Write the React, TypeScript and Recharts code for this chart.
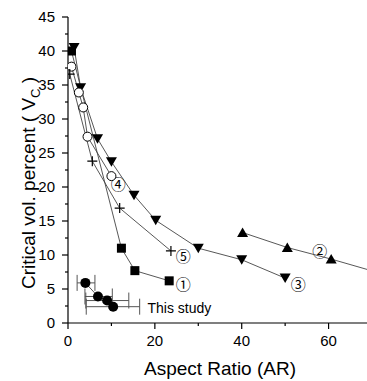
import { ComposedChart, Line, Scatter, ErrorBar, XAxis, YAxis } from 'recharts';

// ① filled squares
const series1 = [
    { x: 0.8, y: 40.0 },
    { x: 12.3, y: 11.0 },
    { x: 15.4, y: 7.7 },
    { x: 23.3, y: 6.2 },
];
// ② up triangles (line runs out past the right edge)
const series2 = [
    { x: 40.2, y: 13.3 },
    { x: 50.5, y: 11.1 },
    { x: 60.6, y: 9.4 },
    { x: 72.0, y: 7.3 },
];
// ③ down triangles
const series3 = [
    { x: 1.4, y: 40.5 },
    { x: 2.9, y: 34.6 },
    { x: 6.8, y: 27.1 },
    { x: 10.0, y: 23.7 },
    { x: 15.2, y: 18.8 },
    { x: 20.2, y: 15.1 },
    { x: 30.0, y: 11.0 },
    { x: 40.0, y: 9.3 },
    { x: 50.0, y: 6.6 },
];
// ④ open circles
const series4 = [
    { x: 0.8, y: 37.7 },
    { x: 2.5, y: 33.9 },
    { x: 3.5, y: 31.7 },
    { x: 4.5, y: 27.4 },
    { x: 10.0, y: 21.6 },
];
// ⑤ crosses
const series5 = [
    { x: 0.4, y: 36.6 },
    { x: 5.6, y: 23.8 },
    { x: 11.9, y: 16.9 },
    { x: 23.7, y: 10.6 },
];
// this study, with horizontal error bars [low, high]
const studyData = [
    { x: 4.0, y: 5.9, err: [1.9, 2.2] },
    { x: 6.9, y: 3.9, err: [3.0, 3.3] },
    { x: 9.0, y: 3.3, err: [4.9, 5.0] },
    { x: 10.4, y: 2.4, err: [6.2, 6.1] },
];

const xTicks = [0, 10, 20, 30, 40, 50, 60, 70];
const yTicks = [0, 2.5, 5, 7.5, 10, 12.5, 15, 17.5, 20, 22.5, 25, 27.5, 30, 32.5, 35, 37.5, 40, 42.5, 45];

const FONT = '"Liberation Sans", Arial, sans-serif';
const LINE = '#444';

const BottomTick = (props: any) => {
    const { x, y, payload } = props;
    const major = payload.value % 20 === 0;
    return (
        <g>
            <line x1={x} y1={y} x2={x} y2={y + (major ? 6 : 3)} stroke="#000" strokeWidth={1.2} />
            {major && (
                <text x={x} y={y + 23} textAnchor="middle" fontSize={15} fontFamily={FONT} fill="#000">
                    {payload.value}
                </text>
            )}
        </g>
    );
};

const TopTick = (props: any) => {
    const { x, y, payload } = props;
    const major = payload.value % 20 === 0;
    return <line x1={x} y1={y} x2={x} y2={y + (major ? 7 : 4)} stroke="#000" strokeWidth={1.2} />;
};

const LeftTick = (props: any) => {
    const { x, y, payload } = props;
    const major = payload.value % 5 === 0;
    return (
        <g>
            <line x1={x} y1={y} x2={x - (major ? 6 : 3)} y2={y} stroke="#000" strokeWidth={1.2} />
            {major && (
                <text x={x - 13} y={y} dy="0.36em" textAnchor="end" fontSize={15} fontFamily={FONT} fill="#000">
                    {payload.value}
                </text>
            )}
        </g>
    );
};

const RightTick = (props: any) => {
    const { x, y, payload } = props;
    const major = payload.value % 5 === 0;
    return <line x1={x} y1={y} x2={x - (major ? 7 : 4)} y2={y} stroke="#000" strokeWidth={1.2} />;
};

const square = (p: any) => (
    <rect key={`s${p.index}`} x={p.cx - 4.5} y={p.cy - 4.5} width={9} height={9} fill="#000" />
);
const upTri = (p: any) => (
    <path key={`u${p.index}`} d={`M${p.cx - 5.5},${p.cy + 4.5} L${p.cx + 5.5},${p.cy + 4.5} L${p.cx},${p.cy - 5} Z`} fill="#000" />
);
const downTri = (p: any) => (
    <path key={`d${p.index}`} d={`M${p.cx - 5.5},${p.cy - 4.5} L${p.cx + 5.5},${p.cy - 4.5} L${p.cx},${p.cy + 5} Z`} fill="#000" />
);
const openCircle = (p: any) => (
    <circle key={`o${p.index}`} cx={p.cx} cy={p.cy} r={4.5} fill="#fff" stroke="#000" strokeWidth={1} />
);
const cross = (p: any) => (
    <path key={`c${p.index}`} d={`M${p.cx - 5},${p.cy} H${p.cx + 5} M${p.cx},${p.cy - 5} V${p.cy + 5}`} stroke="#000" strokeWidth={1.2} />
);
const dotShape = (p: any) => <circle cx={p.cx} cy={p.cy} r={5} fill="#000" />;

const tag = (x: number, y: number, s: string) => (
    <text x={x} y={y} dy="0.36em" textAnchor="middle" fontSize={15} fontFamily='"Noto Sans CJK JP", "DejaVu Sans"' fill="#000">
        {s}
    </text>
);

export default function App() {
    return (
        <div style={{ position: 'fixed', left: 0, top: 0, width: 367, height: 381, overflow: 'hidden', background: '#fff' }}>
            <ComposedChart width={372} height={381} margin={{ top: 17, right: 0, bottom: 0, left: 0 }}>
                <XAxis
                    dataKey="x"
                    type="number"
                    domain={[0, 70]}
                    ticks={xTicks}
                    interval={0}
                    allowDataOverflow
                    height={58}
                    tickSize={0}
                    tickMargin={0}
                    tickLine={false}
                    tick={BottomTick}
                    axisLine={{ stroke: '#000', strokeWidth: 1.2 }}
                />
                <XAxis
                    xAxisId="top"
                    orientation="top"
                    type="number"
                    domain={[0, 70]}
                    ticks={xTicks}
                    interval={0}
                    height={0}
                    tickSize={0}
                    tickMargin={0}
                    tickLine={false}
                    tick={TopTick}
                    axisLine={{ stroke: '#000', strokeWidth: 1.2 }}
                />
                <YAxis
                    type="number"
                    domain={[0, 45]}
                    ticks={yTicks}
                    interval={0}
                    width={68}
                    tickSize={0}
                    tickMargin={0}
                    tickLine={false}
                    tick={LeftTick}
                    axisLine={{ stroke: '#000', strokeWidth: 1.2 }}
                />
                <YAxis
                    yAxisId="right"
                    orientation="right"
                    type="number"
                    domain={[0, 45]}
                    ticks={yTicks}
                    interval={0}
                    width={0}
                    tickSize={0}
                    tickMargin={0}
                    tickLine={false}
                    tick={RightTick}
                    axisLine={{ stroke: '#000', strokeWidth: 1.2 }}
                />

                <Line data={series1} dataKey="y" stroke={LINE} strokeWidth={0.9} dot={square} activeDot={false} isAnimationActive={false} />
                <Line data={series2} dataKey="y" stroke={LINE} strokeWidth={0.9} dot={upTri} activeDot={false} isAnimationActive={false} />
                <Line data={series3} dataKey="y" stroke={LINE} strokeWidth={0.9} dot={downTri} activeDot={false} isAnimationActive={false} />
                <Line data={series4} dataKey="y" stroke={LINE} strokeWidth={0.9} dot={openCircle} activeDot={false} isAnimationActive={false} />
                <Line data={series5} dataKey="y" stroke={LINE} strokeWidth={0.9} dot={cross} activeDot={false} isAnimationActive={false} />
                <Scatter data={studyData} dataKey="y" shape={dotShape} line={{ stroke: LINE, strokeWidth: 0.9 }} isAnimationActive={false}>
                    <ErrorBar dataKey="err" direction="x" width={8} stroke="#555" strokeWidth={1} isAnimationActive={false} />
                </Scatter>

                {tag(183.3, 284.3, '①')}
                {tag(319.7, 252, '②')}
                {tag(298.3, 284.3, '③')}
                {tag(118.3, 185, '④')}
                {tag(183.3, 256.7, '⑤')}
                <text x={147.5} y={313.3} fontSize={14} fontFamily={FONT} fill="#000">This study</text>
                <text x={220} y={375} textAnchor="middle" fontSize={19} fontFamily={FONT} fill="#000">Aspect Ratio (AR)</text>
                <text x={35} y={183} textAnchor="middle" fontSize={19} fontFamily={FONT} fill="#000" transform="rotate(-90, 35, 183)">
                    Critical vol. percent ( V<tspan fontSize={13} dy={5}>C</tspan><tspan dy={-5}> )</tspan>
                </text>
            </ComposedChart>
        </div>
    );
}
